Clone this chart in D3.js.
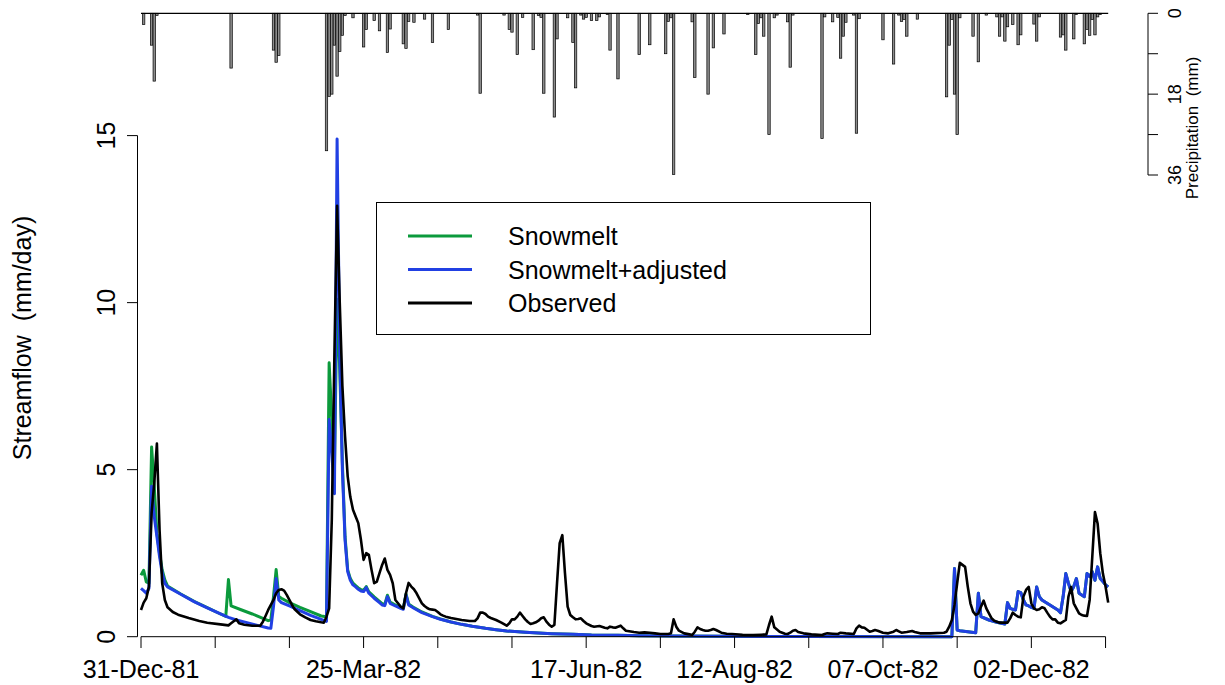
<!DOCTYPE html>
<html><head><meta charset="utf-8">
<script src="https://cdn.jsdelivr.net/npm/d3@7"></script>
<style>
body{margin:0;background:#fff}
text{font-family:"Liberation Sans",Arial,Helvetica,sans-serif;fill:#000}
</style>
</head><body>
<svg id="chart" width="1225" height="685"></svg>
<script>
// ---------------- DATA ----------------
const startDate = "1981-12-31";
const tickDays = [0,28,56,84,112,140,168,196,224,252,280,308,336,364];
const tickLabels = {0:"31-Dec-81",84:"25-Mar-82",168:"17-Jun-82",224:"12-Aug-82",280:"07-Oct-82",336:"02-Dec-82"};
const yTicks = [0,5,10,15];
const pTicks = [0,9,18,27,36];
const pLabels = [0,18,36];
const seriesNames = ["Snowmelt","Snowmelt+adjusted","Observed"];

const precipDays = [1,4,5,6,34,50,51,52,70,71,72,73,74,75,76,77,80,84,85,88,90,93,94,99,100,101,103,107,110,116,127,128,137,139,140,142,144,148,150,151,152,156,157,161,163,164,166,167,168,170,172,173,176,177,180,188,192,198,199,200,201,208,209,214,216,220,229,232,233,234,235,237,239,240,244,245,246,257,258,261,263,264,265,266,269,270,271,280,284,286,287,288,289,293,304,305,306,307,308,309,314,316,319,323,324,325,326,327,329,331,332,337,338,339,347,348,349,352,353,356,357,358,359,360,361,362];
const precipMM = [2.5,7.1,15.1,0.5,12.2,8.2,10.9,9.4,30.6,18.5,18.0,7.1,14.0,8.5,4.9,0.5,1.0,7.5,3.6,1.6,3.9,8.7,3.5,6.8,7.8,1.8,2.0,1.3,6.5,3.6,0.4,17.8,0.4,3.6,4.2,9.2,0.9,8.1,0.5,0.9,17.8,23.1,5.7,1.0,6.5,16.6,0.4,1.3,0.9,1.6,1.6,0.8,0.3,8.2,14.6,9.2,7.0,9.0,1.8,1.0,35.9,1.9,14.3,18.0,7.7,4.6,0.3,9.2,2.3,1.0,5.1,27.0,1.0,0.4,1.9,12.0,0.4,27.9,0.8,1.9,0.9,10.0,5.1,2.0,0.4,26.7,1.2,5.9,11.3,0.4,1.8,1.4,5.1,1.3,18.6,7.1,1.4,18.0,27.0,1.0,5.1,10.8,0.4,0.8,5.1,0.8,6.2,3.0,2.5,7.0,4.8,2.4,6.2,0.8,5.3,4.8,8.2,5.7,0.3,6.8,3.6,4.9,1.4,4.8,0.8,0.3];

// [day, mm/day]
const snowmelt = [[0,1.84],[1,1.99],[2,1.64],[3,1.6],[4,5.68],[5,4.5],[6,3.1],[7,2.5],[8,2.0],[9,1.7],[10,1.52],[15,1.28],[20,1.06],[25,0.87],[30,0.68],[32,0.61],[33,1.71],[34,0.92],[38,0.80],[42,0.68],[46,0.55],[48,0.48],[49,0.50],[50,1.2],[51,2.01],[52,1.2],[53,1.15],[56,1.02],[60,0.88],[64,0.75],[68,0.62],[70,0.6],[71,8.2],[72,6.5],[73,5.0],[74,10.1],[75,8.0],[76,5.2],[77,3.0],[78,2.0],[79,1.74],[80,1.6],[81,1.53],[82,1.46],[83,1.41],[84,1.39],[85,1.5],[86,1.34],[88,1.19],[90,1.06],[91,0.99],[92,0.97],[93,1.24],[94,1.04],[96,0.95],[98,0.88],[99,0.85],[100,1.28],[101,0.98],[103,0.87],[106,0.74],[110,0.61],[113,0.53],[117,0.44],[121,0.37],[125,0.31],[130,0.25],[134,0.21],[138,0.17],[145,0.13],[150,0.11],[155,0.09],[163,0.07],[170,0.05],[180,0.04],[188,0.03],[200,0.02],[220,0.01],[250,0.005],[306,0.0],[307,2.04],[308,0.2],[309,0.18],[312,0.15],[315,0.12],[316,1.30],[317,0.6],[320,0.5],[323,0.43],[326,0.38],[327,1.02],[328,0.85],[329,0.82],[330,0.80],[331,1.35],[332,1.32],[333,1.1],[334,0.95],[335,0.92],[336,0.88],[337,0.85],[338,1.49],[339,1.2],[340,1.10],[343,0.95],[346,0.80],[347,0.72],[348,1.2],[349,1.89],[350,1.6],[351,1.35],[352,1.5],[353,1.74],[354,1.30],[355,1.25],[356,1.20],[357,1.89],[358,1.80],[359,1.94],[360,1.69],[361,2.09],[362,1.74],[363,1.65],[364,1.55],[365,1.49]];

const adjusted = [[0,1.45],[1,1.38],[2,1.30],[3,1.45],[4,4.5],[5,3.6],[6,3.0],[7,2.4],[8,1.9],[9,1.6],[10,1.49],[15,1.27],[20,1.05],[25,0.86],[30,0.68],[33,0.58],[36,0.50],[40,0.42],[44,0.34],[48,0.26],[49,0.25],[50,0.9],[51,1.74],[52,1.10],[53,1.02],[56,0.92],[60,0.78],[64,0.64],[68,0.52],[70,0.46],[71,6.5],[72,5.5],[73,4.28],[74,14.9],[75,8.5],[76,5.0],[77,2.9],[78,1.95],[79,1.69],[80,1.55],[81,1.49],[82,1.42],[83,1.37],[84,1.35],[85,1.47],[86,1.30],[88,1.15],[90,1.02],[91,0.95],[92,0.93],[93,1.20],[94,1.0],[96,0.92],[98,0.85],[99,0.82],[100,1.25],[101,0.95],[103,0.85],[106,0.72],[110,0.60],[113,0.52],[117,0.44],[121,0.37],[125,0.31],[130,0.25],[134,0.21],[138,0.17],[145,0.13],[150,0.11],[155,0.09],[163,0.07],[170,0.05],[180,0.04],[188,0.03],[200,0.02],[220,0.01],[250,0.005],[306,0.0],[307,2.04],[308,0.2],[309,0.18],[312,0.15],[315,0.12],[316,1.30],[317,0.6],[320,0.5],[323,0.43],[326,0.38],[327,1.02],[328,0.85],[329,0.82],[330,0.80],[331,1.35],[332,1.32],[333,1.1],[334,0.95],[335,0.92],[336,0.88],[337,0.85],[338,1.49],[339,1.2],[340,1.10],[343,0.95],[346,0.80],[347,0.72],[348,1.2],[349,1.89],[350,1.6],[351,1.35],[352,1.5],[353,1.74],[354,1.30],[355,1.25],[356,1.20],[357,1.89],[358,1.80],[359,1.94],[360,1.69],[361,2.09],[362,1.74],[363,1.65],[364,1.55],[365,1.49]];

const observed = [[0,0.80],[1,1.02],[2,1.15],[3,1.5],[4,3.7],[5,4.6],[6,5.78],[7,3.2],[8,1.6],[9,1.1],[10,0.88],[12,0.74],[14,0.66],[18,0.56],[22,0.47],[25,0.42],[30,0.37],[33,0.34],[34,0.40],[36,0.52],[37,0.40],[39,0.36],[42,0.33],[45,0.33],[46,0.45],[47,0.62],[48,0.80],[49,0.95],[50,1.10],[51,1.30],[52,1.40],[53,1.42],[54,1.38],[55,1.25],[56,1.10],[57,0.95],[58,0.82],[60,0.67],[62,0.58],[64,0.50],[66,0.46],[68,0.43],[69,0.42],[70,0.6],[71,0.85],[72,3.5],[73,8.5],[74,12.9],[75,10.0],[76,7.5],[77,6.0],[78,4.8],[79,4.18],[80,3.8],[81,3.6],[82,3.4],[83,2.9],[84,2.3],[85,2.5],[86,2.45],[87,2.0],[88,1.6],[89,1.65],[90,1.9],[91,2.15],[92,2.34],[93,2.0],[94,1.85],[95,1.6],[96,1.1],[97,1.0],[98,0.9],[99,0.85],[100,1.3],[101,1.61],[102,1.5],[103,1.42],[104,1.3],[105,1.15],[106,1.0],[107,0.92],[108,0.86],[109,0.82],[110,0.81],[111,0.80],[112,0.74],[113,0.67],[114,0.63],[115,0.60],[117,0.56],[119,0.53],[121,0.50],[124,0.47],[126,0.47],[127,0.55],[128,0.72],[129,0.72],[130,0.68],[131,0.60],[132,0.56],[134,0.50],[136,0.42],[138,0.33],[139,0.40],[140,0.52],[141,0.52],[142,0.60],[143,0.72],[144,0.62],[145,0.52],[146,0.44],[147,0.38],[148,0.40],[149,0.43],[150,0.48],[151,0.55],[152,0.58],[153,0.45],[154,0.36],[155,0.30],[156,0.35],[157,1.6],[158,2.8],[159,3.04],[160,1.9],[161,0.90],[162,0.65],[163,0.58],[164,0.52],[165,0.53],[166,0.55],[167,0.47],[168,0.40],[170,0.32],[171,0.30],[173,0.32],[175,0.27],[176,0.25],[177,0.30],[178,0.28],[179,0.27],[180,0.30],[181,0.33],[182,0.25],[183,0.18],[186,0.14],[188,0.12],[190,0.13],[192,0.12],[194,0.10],[196,0.08],[199,0.08],[200,0.1],[201,0.52],[202,0.30],[203,0.18],[205,0.10],[207,0.07],[208,0.05],[209,0.15],[210,0.28],[211,0.23],[212,0.20],[213,0.18],[214,0.18],[215,0.2],[216,0.23],[217,0.20],[219,0.12],[221,0.09],[223,0.08],[227,0.06],[231,0.05],[234,0.06],[236,0.07],[237,0.35],[238,0.60],[239,0.28],[241,0.15],[243,0.09],[244,0.08],[245,0.12],[246,0.18],[247,0.20],[248,0.14],[250,0.10],[253,0.07],[257,0.05],[258,0.08],[259,0.10],[261,0.09],[263,0.08],[264,0.12],[266,0.10],[269,0.08],[270,0.25],[271,0.33],[272,0.28],[273,0.27],[275,0.15],[276,0.17],[277,0.2],[278,0.18],[280,0.12],[282,0.10],[284,0.15],[285,0.20],[286,0.16],[287,0.12],[289,0.14],[291,0.17],[292,0.14],[294,0.10],[298,0.10],[303,0.12],[304,0.15],[305,0.30],[306,0.50],[307,0.95],[308,1.6],[309,2.21],[310,2.15],[311,2.09],[312,1.5],[313,1.0],[314,0.75],[315,0.65],[316,0.70],[317,0.9],[318,1.08],[319,0.85],[320,0.7],[321,0.55],[322,0.48],[324,0.42],[327,0.42],[328,0.55],[329,0.72],[330,0.65],[331,0.6],[332,0.58],[333,1.2],[334,1.4],[335,1.49],[336,1.0],[337,0.85],[338,0.80],[339,0.82],[340,0.88],[341,0.85],[342,0.72],[343,0.6],[344,0.52],[345,0.52],[346,0.42],[347,0.40],[348,0.45],[349,0.50],[350,1.2],[351,1.49],[352,1.0],[353,0.85],[354,0.70],[355,0.65],[356,0.63],[357,0.62],[358,1.10],[359,2.4],[360,3.73],[361,3.39],[362,2.5],[363,1.89],[364,1.5],[365,1.02]];

// ---------------- DRAW ----------------
const colors = {"Snowmelt":"#0b9a3c","Snowmelt+adjusted":"#2140e3","Observed":"#000000"};
const svg = d3.select("#chart");
svg.append("rect").attr("width",1225).attr("height",685).attr("fill","#fff");

const t0 = d3.utcParse("%Y-%m-%d")(startDate);
const dayDate = d => d3.utcDay.offset(t0, d);
const x = d3.scaleUtc().domain([dayDate(0), dayDate(365)]).range([141, 1108.2]);
const y = d3.scaleLinear().domain([0, 15]).range([636.7, 135.6]);
const yp = d3.scaleLinear().domain([0, 36]).range([13.3, 175]);

// precipitation bars
const pg = svg.append("g");
pg.selectAll("rect").data(precipDays.map((d,i)=>({d, v:precipMM[i]})))
  .enter().append("rect")
  .attr("x", o => x(dayDate(o.d)) - 1.2)
  .attr("y", yp(0))
  .attr("width", 2.4)
  .attr("height", o => yp(o.v) - yp(0))
  .attr("fill", "#8c8c8c").attr("stroke", "#000").attr("stroke-width", 0.7);
svg.append("line").attr("x1", x(dayDate(0))).attr("x2", x(dayDate(365)))
  .attr("y1", yp(0)).attr("y2", yp(0)).attr("stroke", "#000").attr("stroke-width", 1.2);

// right precipitation axis
const rAxis = svg.append("g").attr("transform","translate(1148,0)");
rAxis.append("line").attr("x1",0).attr("x2",0).attr("y1",yp(0)).attr("y2",yp(36)).attr("stroke","#000").attr("stroke-width",1);
rAxis.selectAll("line.t").data(pTicks).enter().append("line").attr("class","t")
  .attr("x1",0).attr("x2",10).attr("y1",d=>yp(d)).attr("y2",d=>yp(d)).attr("stroke","#000").attr("stroke-width",1);
rAxis.selectAll("text").data(pLabels).enter().append("text")
  .attr("transform", d => `translate(33,${yp(d)}) rotate(-90)`)
  .attr("text-anchor","middle").style("font-size","18px").text(d=>d);
svg.append("text").attr("transform","translate(1198,128) rotate(-90)")
  .attr("text-anchor","middle").style("font-size","17px").style("white-space","pre")
  .text("Precipitation  (mm)");

// streamflow lines
const line = d3.line().x(p => x(dayDate(p[0]))).y(p => y(p[1]));
const series = [snowmelt, adjusted, observed];
series.forEach((s, i) => {
  svg.append("path").attr("d", line(s)).attr("fill","none")
    .attr("stroke", colors[seriesNames[i]])
    .attr("stroke-width", i === 2 ? 2.6 : 3)
    .attr("stroke-linejoin","round");
});

// left y axis
const lAxis = svg.append("g");
lAxis.append("line").attr("x1",137.5).attr("x2",137.5).attr("y1",y(0)).attr("y2",y(15)).attr("stroke","#000");
lAxis.selectAll("line.t").data(yTicks).enter().append("line").attr("class","t")
  .attr("x1",127).attr("x2",137.5).attr("y1",d=>y(d)).attr("y2",d=>y(d)).attr("stroke","#000");
lAxis.selectAll("text").data(yTicks).enter().append("text")
  .attr("transform", d => `translate(115,${y(d)}) rotate(-90)`)
  .attr("text-anchor","middle").style("font-size","25px").text(d=>d);
svg.append("text").attr("transform","translate(31,338) rotate(-90)")
  .attr("text-anchor","middle").style("font-size","25px").style("white-space","pre")
  .text("Streamflow  (mm/day)");

// x axis
const xAxis = svg.append("g");
xAxis.append("line").attr("x1",x(dayDate(tickDays[0]))).attr("x2",x(dayDate(tickDays[tickDays.length-1])))
  .attr("y1",y(0)).attr("y2",y(0)).attr("stroke","#000");
xAxis.selectAll("line.t").data(tickDays).enter().append("line").attr("class","t")
  .attr("x1",d=>x(dayDate(d))).attr("x2",d=>x(dayDate(d)))
  .attr("y1",y(0)).attr("y2",648).attr("stroke","#000");
xAxis.selectAll("text").data(tickDays.filter(d => tickLabels[d])).enter().append("text")
  .attr("x", d => x(dayDate(d))).attr("y", 678)
  .attr("text-anchor","middle").style("font-size","25px").text(d => tickLabels[d]);

// legend
const lg = svg.append("g");
lg.append("rect").attr("x",376.5).attr("y",202.5).attr("width",494).attr("height",132)
  .attr("fill","#fff").attr("stroke","#000").attr("stroke-width",1);
seriesNames.forEach((n, i) => {
  const yy = 236 + i * 33.5;
  lg.append("line").attr("x1",408).attr("x2",472).attr("y1",yy).attr("y2",yy)
    .attr("stroke", colors[n]).attr("stroke-width",3);
  lg.append("text").attr("x",508).attr("y",yy + 9).style("font-size","25px").text(n);
});
</script>
</body></html>
